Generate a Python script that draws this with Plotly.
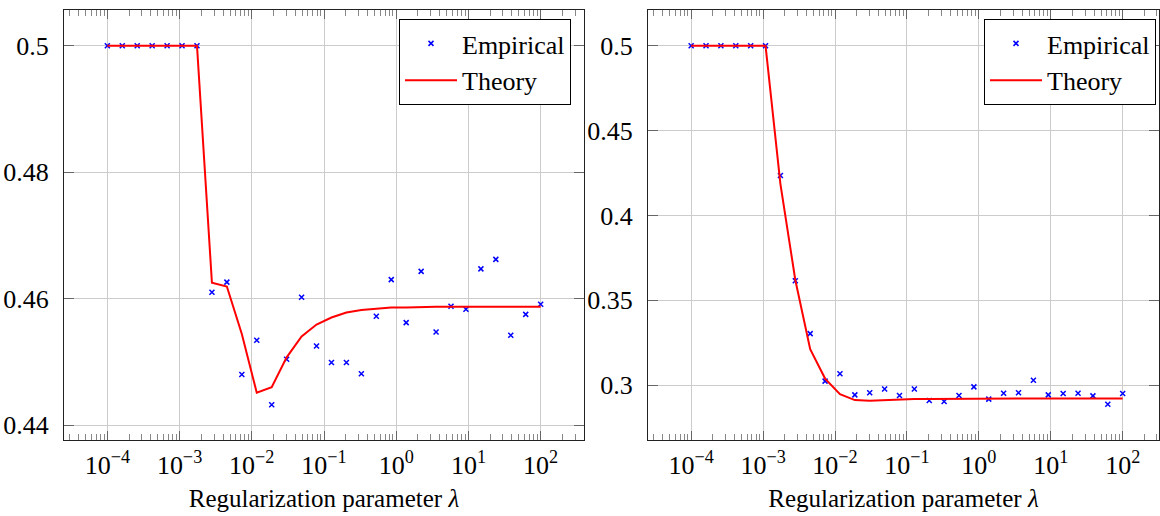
import plotly.graph_objects as go

# regularization parameter values (30 log-spaced points, 1e-4 .. 1e2)
lam = [1.0e-4, 1.6103e-4, 2.5929e-4, 4.1753e-4, 6.7234e-4, 1.0826e-3, 1.7433e-3,
       2.8072e-3, 4.5204e-3, 7.2790e-3, 1.1721e-2, 1.8874e-2, 3.0392e-2, 4.8939e-2,
       7.8805e-2, 0.12690, 0.20434, 0.32903, 0.52983, 0.85317, 1.3738, 2.2122,
       3.5622, 5.7362, 9.2367, 14.874, 23.950, 38.566, 62.102, 100.0]

left_emp = [0.5, 0.5, 0.5, 0.5, 0.5, 0.5, 0.5,
            0.4610, 0.4626, 0.4480, 0.4534, 0.4432, 0.4504, 0.4602, 0.4525,
            0.4499, 0.4499, 0.4481, 0.4572, 0.4630, 0.4562, 0.4643, 0.4547,
            0.4588, 0.4583, 0.4647, 0.4662, 0.4542, 0.4575, 0.4591]
left_theory = [0.5, 0.5, 0.5, 0.5, 0.5, 0.5, 0.5,
               0.4625, 0.4619, 0.4544, 0.4451, 0.4460, 0.4507, 0.4540, 0.4559,
               0.4570, 0.4578, 0.4582, 0.4584, 0.4586, 0.4586, 0.4587, 0.4587,
               0.4587, 0.4587, 0.4587, 0.4587, 0.4587, 0.4587, 0.4587]

right_emp = [0.5, 0.5, 0.5, 0.5, 0.5, 0.5,
             0.4236, 0.3616, 0.3304, 0.3024, 0.3067, 0.2943, 0.2955, 0.2978,
             0.2939, 0.2978, 0.2910, 0.2904, 0.2939, 0.2990, 0.2918, 0.2953,
             0.2955, 0.3029, 0.2943, 0.2951, 0.2953, 0.2937, 0.2888, 0.2951]
right_theory = [0.5, 0.5, 0.5, 0.5, 0.5, 0.5,
                0.4185, 0.3620, 0.3212, 0.3039, 0.2947, 0.2912, 0.2908, 0.2912,
                0.2916, 0.2918, 0.2919, 0.2920, 0.2920, 0.2921, 0.2921, 0.2921,
                0.2921, 0.2921, 0.2921, 0.2921, 0.2921, 0.2921, 0.2921, 0.2921]

x_tickvals = [1e-4, 1e-3, 1e-2, 1e-1, 1, 10, 100]
x_ticktext = ["10<sup>\u22124</sup>", "10<sup>\u22123</sup>", "10<sup>\u22122</sup>",
              "10<sup>\u22121</sup>", "10<sup>0</sup>", "10<sup>1</sup>", "10<sup>2</sup>"]
left_yticks = [0.44, 0.46, 0.48, 0.5]
left_ytext = ["0.44", "0.46", "0.48", "0.5"]
right_yticks = [0.3, 0.35, 0.4, 0.45, 0.5]
right_ytext = ["0.3", "0.35", "0.4", "0.45", "0.5"]
xlabel = "Regularization parameter <i>\u03bb</i>"

W, H = 1160, 516
FONT = "Liberation Serif"
FS = 26

minor_vals = [m * 10.0 ** e for e in range(-5, 3) for m in range(2, 10)]

fig = go.Figure()
fig.add_trace(go.Scatter(x=lam, y=left_emp, mode="markers", name="Empirical",
                         marker=dict(symbol="x-thin", size=5, color="blue",
                                     line=dict(color="blue", width=1.5)),
                         xaxis="x", yaxis="y", legend="legend"))
fig.add_trace(go.Scatter(x=lam, y=left_theory, mode="lines", name="Theory",
                         line=dict(color="red", width=2),
                         xaxis="x", yaxis="y", legend="legend"))
fig.add_trace(go.Scatter(x=lam, y=right_emp, mode="markers", name="Empirical",
                         marker=dict(symbol="x-thin", size=5, color="blue",
                                     line=dict(color="blue", width=1.5)),
                         xaxis="x2", yaxis="y2", legend="legend2"))
fig.add_trace(go.Scatter(x=lam, y=right_theory, mode="lines", name="Theory",
                         line=dict(color="red", width=2),
                         xaxis="x2", yaxis="y2", legend="legend2"))

def xaxis(domain, rng, anchor):
    return dict(type="log", domain=domain, range=rng, anchor=anchor,
                automargin=False,
                tickvals=x_tickvals, ticktext=x_ticktext,
                ticks="inside", ticklen=9, tickcolor="#666", tickwidth=1,
                showline=True, linecolor="#222", linewidth=1, mirror="ticks",
                showgrid=True, gridcolor="#cccccc", gridwidth=1, zeroline=False,
                minor=dict(tickvals=minor_vals, ticks="inside", ticklen=6,
                           tickcolor="#888", tickwidth=1, showgrid=False),
                tickfont=dict(family=FONT, size=FS, color="black"),
                ticklabelstandoff=2,
                title=dict(text=xlabel, font=dict(family=FONT, size=25, color="black"),
                           standoff=10))

def yaxis(domain, rng, anchor, tv, tt):
    return dict(domain=domain, range=rng, anchor=anchor,
                automargin=False,
                tickvals=tv, ticktext=tt,
                ticks="inside", ticklen=10, tickcolor="#666", tickwidth=1,
                showline=True, linecolor="#222", linewidth=1, mirror="ticks",
                showgrid=True, gridcolor="#cccccc", gridwidth=1, zeroline=False,
                tickfont=dict(family=FONT, size=FS, color="black"),
                ticklabelstandoff=9)

ydom = [1 - 440 / H, 1 - 10 / H]
leg_common = dict(xanchor="right", yanchor="top",
                  bgcolor="white", bordercolor="black", borderwidth=1,
                  font=dict(family=FONT, size=26, color="black"),
                  tracegroupgap=0, itemwidth=52)
fig.update_layout(
    width=W, height=H,
    margin=dict(l=0, r=0, t=0, b=0, autoexpand=False),
    paper_bgcolor="white", plot_bgcolor="white",
    showlegend=True,
    xaxis=xaxis([64 / W, 584 / W], [-4.6, 2.6], "y"),
    yaxis=yaxis(ydom, [0.43763, 0.50565], "x", left_yticks, left_ytext),
    xaxis2=xaxis([648 / W, 1159 / W], [-4.6, 2.505], "y2"),
    yaxis2=yaxis(ydom, [0.2677, 0.5211], "x2", right_yticks, right_ytext),
    legend=dict(x=571 / W, y=1 - 19 / H, **leg_common),
    legend2=dict(x=1156 / W, y=1 - 19 / H, **leg_common),
)

fig.write_html("out.html", config={"displayModeBar": False},
               post_script="document.body.style.margin='0px';document.body.style.padding='0px';")
